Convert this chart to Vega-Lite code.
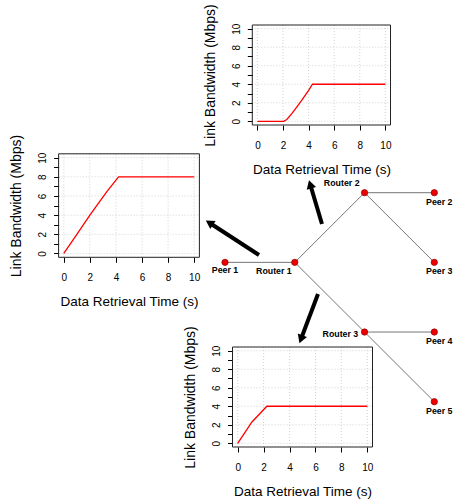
{
  "$schema": "https://vega.github.io/schema/vega-lite/v6.json",
  "width": 454,
  "height": 502,
  "autosize": "none",
  "padding": 0,
  "background": "white",
  "config": {
    "view": {"stroke": null},
    "font": "Liberation Sans",
    "axis": {
      "grid": false, "domain": false, "tickSize": 5, "tickColor": "black", "tickWidth": 1,
      "labelColor": "black", "labelFontSize": 10, "labelFont": "Liberation Sans",
      "titleFont": "Liberation Sans", "titleFontSize": 13.5, "titleFontWeight": "normal", "titleColor": "black",
      "labelFlush": false, "labelOverlap": false
    },
    "axisX": {"labelPadding": 10.5, "titlePadding": 11.5},
    "axisY": {"labelAngle": 270, "labelAlign": "center", "labelBaseline": "bottom", "labelPadding": 6.3, "titlePadding": 13.5, "titleFontSize": 14}
  },
  "datasets": {
    "bw": [
      {"chart": "top", "t": 0, "mbps": 0},
      {"chart": "top", "t": 2.05, "mbps": 0},
      {"chart": "top", "t": 2.3, "mbps": 0.2},
      {"chart": "top", "t": 2.7, "mbps": 0.85},
      {"chart": "top", "t": 3.0, "mbps": 1.4},
      {"chart": "top", "t": 3.5, "mbps": 2.35},
      {"chart": "top", "t": 4.0, "mbps": 3.35},
      {"chart": "top", "t": 4.3, "mbps": 4.0},
      {"chart": "top", "t": 10, "mbps": 4.0},
      {"chart": "left", "t": 0, "mbps": 0},
      {"chart": "left", "t": 1, "mbps": 2},
      {"chart": "left", "t": 2, "mbps": 4},
      {"chart": "left", "t": 3.3, "mbps": 6.45},
      {"chart": "left", "t": 4.2, "mbps": 8},
      {"chart": "left", "t": 10, "mbps": 8},
      {"chart": "bottom", "t": 0, "mbps": 0},
      {"chart": "bottom", "t": 1.1, "mbps": 2.3},
      {"chart": "bottom", "t": 2.25, "mbps": 4},
      {"chart": "bottom", "t": 10, "mbps": 4}
    ],
    "grid": [{"v": 0}, {"v": 2}, {"v": 4}, {"v": 6}, {"v": 8}, {"v": 10}],
    "nodes": [
      {"node": "Peer 1", "x": 0, "y": 0},
      {"node": "Router 1", "x": 1, "y": 0},
      {"node": "Router 2", "x": 2, "y": 1},
      {"node": "Peer 2", "x": 3, "y": 1},
      {"node": "Peer 3", "x": 3, "y": 0},
      {"node": "Router 3", "x": 2, "y": -1},
      {"node": "Peer 4", "x": 3, "y": -1},
      {"node": "Peer 5", "x": 3, "y": -2}
    ],
    "edges": [
      {"x": 0, "y": 0, "x2": 1, "y2": 0},
      {"x": 1, "y": 0, "x2": 2, "y2": 1},
      {"x": 2, "y": 1, "x2": 3, "y2": 1},
      {"x": 2, "y": 1, "x2": 3, "y2": 0},
      {"x": 1, "y": 0, "x2": 2, "y2": -1},
      {"x": 2, "y": -1, "x2": 3, "y2": -1},
      {"x": 2, "y": -1, "x2": 3, "y2": -2}
    ],
    "arrows": [
      {"arrow": "left", "tx": 0.487, "ty": 0.106, "hx": -0.224, "hy": 0.569},
      {"arrow": "top", "tx": 1.39, "ty": 0.551, "hx": 1.221, "hy": 1.119},
      {"arrow": "bottom", "tx": 1.333, "ty": -0.454, "hx": 1.088, "hy": -1.103}
    ]
  },
  "resolve": {"scale": {"x": "independent", "y": "independent"}, "axis": {"x": "independent", "y": "independent"}},
  "layer": [
    {
      "layer": [
        {"data": {"name": "grid"}, "mark": {"type": "rule", "color": "#c8c8c8", "strokeDash": [1, 2], "strokeWidth": 0.8},
         "encoding": {
           "x": {"field": "v", "type": "quantitative", "scale": {"domain": [-0.4, 10.4], "range": [252.3, 390.5], "nice": false, "zero": false}, "axis": null},
           "y": {"datum": -0.4, "type": "quantitative", "scale": {"domain": [-0.4, 10.4], "range": [125, 25], "nice": false, "zero": false}, "axis": null},
           "y2": {"datum": 10.4}}},
        {"data": {"name": "grid"}, "mark": {"type": "rule", "color": "#c8c8c8", "strokeDash": [1, 2], "strokeWidth": 0.8},
         "encoding": {
           "y": {"field": "v", "type": "quantitative", "axis": null},
           "x": {"datum": -0.4, "type": "quantitative", "axis": null},
           "x2": {"datum": 10.4}}},
        {"data": {"values": [{}]}, "mark": {"type": "rect", "fill": "white", "fillOpacity": 0, "stroke": "#222222", "strokeWidth": 1},
         "encoding": {
           "x": {"datum": -0.4, "type": "quantitative", "axis": null}, "x2": {"datum": 10.4},
           "y": {"datum": -0.4, "type": "quantitative", "axis": null}, "y2": {"datum": 10.4}}}
      ]
    },
    {"data": {"name": "bw"}, "transform": [{"filter": "datum.chart === 'top'"}],
     "mark": {"type": "line", "color": "#ff0000", "strokeWidth": 1.3},
     "encoding": {
       "x": {"field": "t", "type": "quantitative", "scale": {"domain": [-0.4, 10.4], "range": [252.3, 390.5], "nice": false, "zero": false},
             "axis": {"orient": "bottom", "offset": -377, "values": [0, 2, 4, 6, 8, 10], "title": "Data Retrieval Time (s)"}},
       "y": {"field": "mbps", "type": "quantitative", "scale": {"domain": [-0.4, 10.4], "range": [125, 25], "nice": false, "zero": false},
             "axis": {"orient": "left", "offset": -252.3, "values": [0, 1, 2, 3, 4, 5, 6, 7, 8, 9, 10], "labelExpr": "datum.value % 2 === 0 ? datum.label : ''", "title": "Link Bandwidth (Mbps)"}}}},
    {
      "layer": [
        {"data": {"name": "grid"}, "mark": {"type": "rule", "color": "#c8c8c8", "strokeDash": [1, 2], "strokeWidth": 0.8},
         "encoding": {
           "x": {"field": "v", "type": "quantitative", "scale": {"domain": [-0.4, 10.4], "range": [58.6, 199.4], "nice": false, "zero": false}, "axis": null},
           "y": {"datum": -0.4, "type": "quantitative", "scale": {"domain": [-0.4, 10.4], "range": [257.3, 153.8], "nice": false, "zero": false}, "axis": null},
           "y2": {"datum": 10.4}}},
        {"data": {"name": "grid"}, "mark": {"type": "rule", "color": "#c8c8c8", "strokeDash": [1, 2], "strokeWidth": 0.8},
         "encoding": {
           "y": {"field": "v", "type": "quantitative", "axis": null},
           "x": {"datum": -0.4, "type": "quantitative", "axis": null},
           "x2": {"datum": 10.4}}},
        {"data": {"values": [{}]}, "mark": {"type": "rect", "fill": "white", "fillOpacity": 0, "stroke": "#222222", "strokeWidth": 1},
         "encoding": {
           "x": {"datum": -0.4, "type": "quantitative", "axis": null}, "x2": {"datum": 10.4},
           "y": {"datum": -0.4, "type": "quantitative", "axis": null}, "y2": {"datum": 10.4}}}
      ]
    },
    {"data": {"name": "bw"}, "transform": [{"filter": "datum.chart === 'left'"}],
     "mark": {"type": "line", "color": "#ff0000", "strokeWidth": 1.3},
     "encoding": {
       "x": {"field": "t", "type": "quantitative", "scale": {"domain": [-0.4, 10.4], "range": [58.6, 199.4], "nice": false, "zero": false},
             "axis": {"orient": "bottom", "offset": -244.7, "values": [0, 2, 4, 6, 8, 10], "title": "Data Retrieval Time (s)"}},
       "y": {"field": "mbps", "type": "quantitative", "scale": {"domain": [-0.4, 10.4], "range": [257.3, 153.8], "nice": false, "zero": false},
             "axis": {"orient": "left", "offset": -58.6, "values": [0, 1, 2, 3, 4, 5, 6, 7, 8, 9, 10], "labelExpr": "datum.value % 2 === 0 ? datum.label : ''", "title": "Link Bandwidth (Mbps)"}}}},
    {
      "layer": [
        {"data": {"name": "grid"}, "mark": {"type": "rule", "color": "#c8c8c8", "strokeDash": [1, 2], "strokeWidth": 0.8},
         "encoding": {
           "x": {"field": "v", "type": "quantitative", "scale": {"domain": [-0.4, 10.4], "range": [232.5, 372.5], "nice": false, "zero": false}, "axis": null},
           "y": {"datum": -0.4, "type": "quantitative", "scale": {"domain": [-0.4, 10.4], "range": [447, 347], "nice": false, "zero": false}, "axis": null},
           "y2": {"datum": 10.4}}},
        {"data": {"name": "grid"}, "mark": {"type": "rule", "color": "#c8c8c8", "strokeDash": [1, 2], "strokeWidth": 0.8},
         "encoding": {
           "y": {"field": "v", "type": "quantitative", "axis": null},
           "x": {"datum": -0.4, "type": "quantitative", "axis": null},
           "x2": {"datum": 10.4}}},
        {"data": {"values": [{}]}, "mark": {"type": "rect", "fill": "white", "fillOpacity": 0, "stroke": "#222222", "strokeWidth": 1},
         "encoding": {
           "x": {"datum": -0.4, "type": "quantitative", "axis": null}, "x2": {"datum": 10.4},
           "y": {"datum": -0.4, "type": "quantitative", "axis": null}, "y2": {"datum": 10.4}}}
      ]
    },
    {"data": {"name": "bw"}, "transform": [{"filter": "datum.chart === 'bottom'"}],
     "mark": {"type": "line", "color": "#ff0000", "strokeWidth": 1.3},
     "encoding": {
       "x": {"field": "t", "type": "quantitative", "scale": {"domain": [-0.4, 10.4], "range": [232.5, 372.5], "nice": false, "zero": false},
             "axis": {"orient": "bottom", "offset": -55, "values": [0, 2, 4, 6, 8, 10], "title": "Data Retrieval Time (s)"}},
       "y": {"field": "mbps", "type": "quantitative", "scale": {"domain": [-0.4, 10.4], "range": [447, 347], "nice": false, "zero": false},
             "axis": {"orient": "left", "offset": -232.5, "values": [0, 1, 2, 3, 4, 5, 6, 7, 8, 9, 10], "labelExpr": "datum.value % 2 === 0 ? datum.label : ''", "title": "Link Bandwidth (Mbps)"}}}},
    {
      "layer": [
        {"data": {"name": "edges"}, "mark": {"type": "rule", "color": "#666666", "strokeWidth": 0.9},
         "encoding": {
           "x": {"field": "x", "type": "quantitative", "scale": {"domain": [0, 3], "range": [225, 434.3], "nice": false, "zero": false}, "axis": null},
           "y": {"field": "y", "type": "quantitative", "scale": {"domain": [-2, 1], "range": [401.7, 192.7], "nice": false, "zero": false}, "axis": null},
           "x2": {"field": "x2"}, "y2": {"field": "y2"}}},
        {"data": {"name": "arrows"}, "mark": {"type": "rule", "color": "black", "strokeWidth": 4, "strokeCap": "butt"},
         "encoding": {
           "x": {"field": "tx", "type": "quantitative", "axis": null},
           "y": {"field": "ty", "type": "quantitative", "axis": null},
           "x2": {"field": "hx"}, "y2": {"field": "hy"}}},
        {"data": {"name": "arrows"}, "transform": [{"filter": "datum.arrow === 'left'"}],
         "mark": {"type": "point", "shape": "triangle-up", "filled": true, "color": "black", "opacity": 1, "size": 95, "angle": 303},
         "encoding": {"x": {"field": "hx", "type": "quantitative", "axis": null}, "y": {"field": "hy", "type": "quantitative", "axis": null}}},
        {"data": {"name": "arrows"}, "transform": [{"filter": "datum.arrow === 'top'"}],
         "mark": {"type": "point", "shape": "triangle-up", "filled": true, "color": "black", "opacity": 1, "size": 95, "angle": 343.4},
         "encoding": {"x": {"field": "hx", "type": "quantitative", "axis": null}, "y": {"field": "hy", "type": "quantitative", "axis": null}}},
        {"data": {"name": "arrows"}, "transform": [{"filter": "datum.arrow === 'bottom'"}],
         "mark": {"type": "point", "shape": "triangle-up", "filled": true, "color": "black", "opacity": 1, "size": 95, "angle": 200.7},
         "encoding": {"x": {"field": "hx", "type": "quantitative", "axis": null}, "y": {"field": "hy", "type": "quantitative", "axis": null}}},
        {"data": {"name": "nodes"},
         "mark": {"type": "point", "shape": "circle", "filled": true, "fill": "#ee0000", "stroke": "#8b0000", "strokeWidth": 0.7, "opacity": 1, "size": 40},
         "encoding": {"x": {"field": "x", "type": "quantitative", "axis": null}, "y": {"field": "y", "type": "quantitative", "axis": null}}},
        {"data": {"name": "nodes"}, "transform": [{"filter": "datum.node === 'Peer 1'"}],
         "mark": {"type": "text", "font": "Liberation Sans", "fontWeight": "bold", "fontSize": 8.8, "color": "black", "align": "center", "baseline": "middle", "dx": 0, "dy": 7.6},
         "encoding": {"x": {"field": "x", "type": "quantitative", "axis": null}, "y": {"field": "y", "type": "quantitative", "axis": null}, "text": {"field": "node"}}},
        {"data": {"name": "nodes"}, "transform": [{"filter": "datum.node === 'Router 1'"}],
         "mark": {"type": "text", "font": "Liberation Sans", "fontWeight": "bold", "fontSize": 8.8, "color": "black", "align": "right", "baseline": "middle", "dx": -3, "dy": 8.3},
         "encoding": {"x": {"field": "x", "type": "quantitative", "axis": null}, "y": {"field": "y", "type": "quantitative", "axis": null}, "text": {"field": "node"}}},
        {"data": {"name": "nodes"}, "transform": [{"filter": "datum.node === 'Router 2'"}],
         "mark": {"type": "text", "font": "Liberation Sans", "fontWeight": "bold", "fontSize": 8.8, "color": "black", "align": "right", "baseline": "middle", "dx": -5, "dy": -9.4},
         "encoding": {"x": {"field": "x", "type": "quantitative", "axis": null}, "y": {"field": "y", "type": "quantitative", "axis": null}, "text": {"field": "node"}}},
        {"data": {"name": "nodes"}, "transform": [{"filter": "datum.node === 'Router 3'"}],
         "mark": {"type": "text", "font": "Liberation Sans", "fontWeight": "bold", "fontSize": 8.8, "color": "black", "align": "right", "baseline": "middle", "dx": -6.3, "dy": 1.6},
         "encoding": {"x": {"field": "x", "type": "quantitative", "axis": null}, "y": {"field": "y", "type": "quantitative", "axis": null}, "text": {"field": "node"}}},
        {"data": {"name": "nodes"}, "transform": [{"filter": "datum.node === 'Peer 2' || datum.node === 'Peer 3' || datum.node === 'Peer 4' || datum.node === 'Peer 5'"}],
         "mark": {"type": "text", "font": "Liberation Sans", "fontWeight": "bold", "fontSize": 8.8, "color": "black", "align": "center", "baseline": "middle", "dx": 5, "dy": 9},
         "encoding": {"x": {"field": "x", "type": "quantitative", "axis": null}, "y": {"field": "y", "type": "quantitative", "axis": null}, "text": {"field": "node"}}}
      ]
    }
  ]
}
